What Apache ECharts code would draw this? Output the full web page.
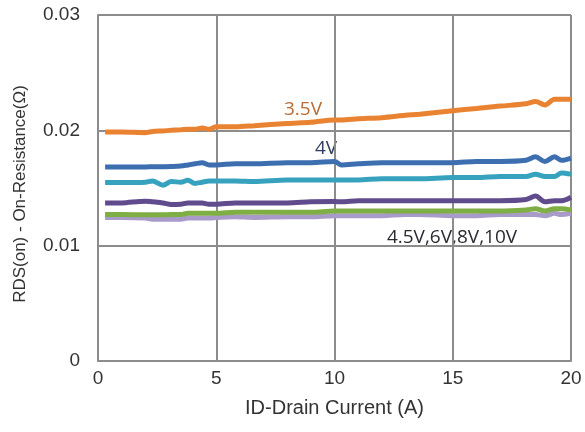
<!DOCTYPE html>
<html>
<head>
<meta charset="utf-8">
<script src="https://cdn.jsdelivr.net/npm/echarts@6/dist/echarts.min.js"></script>
<style>html,body{margin:0;padding:0;background:#fff;}#c{width:585px;height:432px;}</style>
</head>
<body>
<div id="c"></div>
<script>
// Drain current (A)
const current = [0.3, 1, 2, 2.3, 2.75, 3.1, 3.5, 3.8, 4.1, 4.4, 4.7, 5, 5.8, 6.6, 8, 9, 10, 10.3, 11, 12, 13, 13.6, 15, 16, 17, 18.1, 18.5, 18.9, 19.3, 19.6, 20];
// RDS(on) (ohm) per gate voltage
const v35 = [0.01985,0.01985,0.0198,0.0199,0.01995,0.0200,0.02005,0.0201,0.0201,0.0202,0.0201,0.0203,0.0203,0.0204,0.0206,0.0207,0.0209,0.0209,0.0210,0.0211,0.0213,0.0214,0.0217,0.0219,0.0221,0.0223,0.0225,0.0222,0.0227,0.0227,0.0227];
const v4 = [0.01683,0.01683,0.01683,0.01684,0.01685,0.01686,0.0169,0.0170,0.0171,0.0172,0.0170,0.0170,0.0171,0.0171,0.0172,0.0172,0.0173,0.0170,0.0171,0.0172,0.0172,0.0172,0.0172,0.0173,0.0173,0.0174,0.0177,0.0173,0.0177,0.0174,0.0176];
const v45 = [0.01547,0.01547,0.0155,0.0156,0.01524,0.01556,0.0155,0.01567,0.0154,0.0155,0.0156,0.0156,0.0156,0.01556,0.0157,0.0157,0.0157,0.0157,0.0157,0.0158,0.0158,0.0158,0.0159,0.0159,0.0160,0.0160,0.0162,0.0160,0.0160,0.0163,0.0162];
const v6 = [0.01369,0.0137,0.01386,0.0138,0.0137,0.01357,0.0136,0.0137,0.0137,0.0137,0.0136,0.0136,0.0137,0.0137,0.0137,0.0138,0.01383,0.0138,0.0139,0.0139,0.0139,0.0139,0.0139,0.0139,0.0139,0.0140,0.0143,0.0138,0.0139,0.0139,0.0142];
const v8 = [0.0127,0.0127,0.01267,0.01267,0.01268,0.0127,0.0127,0.0128,0.0128,0.0128,0.0128,0.0128,0.0129,0.0129,0.0129,0.0129,0.0130,0.0130,0.0130,0.0130,0.0130,0.0130,0.0130,0.0130,0.0130,0.0131,0.0132,0.0130,0.0132,0.0132,0.0131];
const v10 = [0.01245,0.01245,0.0124,0.0123,0.0123,0.0123,0.0123,0.0124,0.0124,0.0124,0.0124,0.01245,0.0125,0.01245,0.0125,0.0125,0.0126,0.0126,0.0126,0.0126,0.0127,0.0127,0.0126,0.0126,0.0127,0.0127,0.0127,0.0126,0.0128,0.0127,0.0128];
const xTicks = [0, 5, 10, 15, 20];
const yTicks = [0, 0.01, 0.02, 0.03];
const labels = ['3.5V', '4V', '4.5V,6V,8V,10V'];
const yTitle = 'RDS(on) - On-Resistance(Ω)';
const xTitle = 'ID-Drain Current (A)';

const pair = arr => arr.map((v, i) => [current[i], v]);
const mk = (name, arr, color) => ({
  name, type: 'line', data: pair(arr), showSymbol: false, smooth: 0.3,
  lineStyle: { color, width: 5 }, itemStyle: { color }
});

const chart = echarts.init(document.getElementById('c'));
chart.setOption({
  animation: false,
  backgroundColor: '#fff',
  grid: { left: 98, right: 14, top: 15, bottom: 71 },
  xAxis: {
    type: 'value', min: xTicks[0], max: xTicks[xTicks.length - 1], interval: 5,
    name: xTitle, nameLocation: 'middle', nameGap: 37,
    nameTextStyle: { fontFamily: 'Liberation Sans', fontSize: 20, color: '#333' },
    axisLine: { show: true, lineStyle: { color: '#8c8c8c', width: 2 } },
    axisTick: { show: false },
    axisLabel: { fontFamily: 'Liberation Sans', fontSize: 19, color: '#333', margin: 8 },
    splitLine: { show: true, lineStyle: { color: '#8c8c8c', width: 2 } }
  },
  yAxis: {
    type: 'value', min: yTicks[0], max: yTicks[yTicks.length - 1], interval: 0.01,
    axisLine: { show: true, lineStyle: { color: '#8c8c8c', width: 2 } },
    axisTick: { show: false },
    axisLabel: { fontFamily: 'Liberation Sans', fontSize: 19, color: '#333', margin: 18,
      formatter: v => v === 0 ? '0' : v.toFixed(2) },
    splitLine: { show: true, lineStyle: { color: '#8c8c8c', width: 2 } }
  },
  series: [
    mk('10V', v10, '#a99bc9'),
    mk('8V', v8, '#7fae45'),
    mk('6V', v6, '#604b8c'),
    mk('4.5V', v45, '#36a2bd'),
    mk('4V', v4, '#3d6fb0'),
    mk('3.5V', v35, '#ea8331')
  ],
  graphic: [
    { type: 'text', x: 20, y: 194, rotation: Math.PI / 2, style: { text: yTitle, fontFamily: 'Liberation Sans', fontSize: 17, fill: '#333', align: 'center', verticalAlign: 'middle' } },
    { type: 'text', x: 303, y: 110, style: { text: labels[0], fontFamily: 'Open Sans', fontSize: 19, fill: '#b86a32', align: 'center', verticalAlign: 'middle' } },
    { type: 'text', x: 326, y: 149, style: { text: labels[1], fontFamily: 'Open Sans', fontSize: 19, fill: '#2f3d5e', align: 'center', verticalAlign: 'middle' } },
    { type: 'text', x: 452, y: 238, style: { text: labels[2], fontFamily: 'Open Sans', fontSize: 19, fill: '#2a2a33', align: 'center', verticalAlign: 'middle' } }
  ]
});
</script>
</body>
</html>
